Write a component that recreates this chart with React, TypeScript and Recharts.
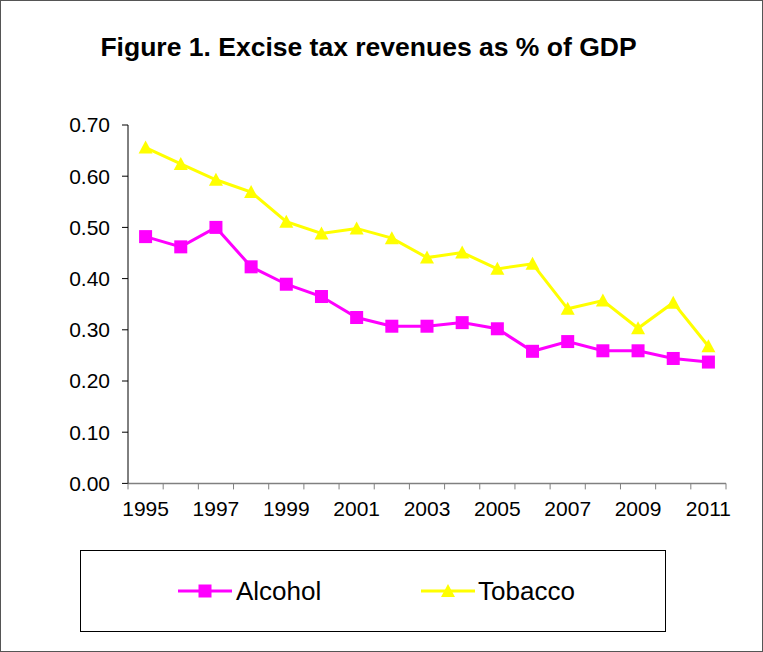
import React from "react";
import { LineChart, Line, XAxis, YAxis } from "recharts";

// values (% of GDP)
const years = [
  "1995", "1996", "1997", "1998", "1999", "2000", "2001", "2002", "2003",
  "2004", "2005", "2006", "2007", "2008", "2009", "2010", "2011",
];
const alcohol = [
  0.482, 0.462, 0.5, 0.423, 0.389, 0.365, 0.324, 0.307, 0.307, 0.314, 0.302,
  0.258, 0.277, 0.259, 0.259, 0.244, 0.237,
];
const tobacco = [
  0.656, 0.624, 0.593, 0.569, 0.511, 0.488, 0.498, 0.479, 0.441, 0.451, 0.419,
  0.429, 0.341, 0.357, 0.303, 0.353, 0.268,
];
const yTicks = [0, 0.1, 0.2, 0.3, 0.4, 0.5, 0.6, 0.7];

const data = years.map((year, i) => ({
  year,
  alcohol: alcohol[i],
  tobacco: tobacco[i],
}));

const W = 763;
const H = 652;
const PLOT_LEFT = 128;
const PLOT_RIGHT = 726;
const BAND = (PLOT_RIGHT - PLOT_LEFT) / years.length;
const FONT = "'Liberation Sans', Arial, sans-serif";
const MAGENTA = "#FF00FF";
const YELLOW = "#FFFF00";

const Square = (props: any) => {
  const { cx, cy, index } = props;
  if (cx == null || cy == null) return <g key={index} />;
  return <rect key={index} x={cx - 6.5} y={cy - 6.5} width={13} height={13} fill={MAGENTA} />;
};

const Triangle = (props: any) => {
  const { cx, cy, index } = props;
  if (cx == null || cy == null) return <g key={index} />;
  return (
    <polygon
      key={index}
      points={`${cx},${cy - 7} ${cx + 7},${cy + 6} ${cx - 7},${cy + 6}`}
      fill={YELLOW}
    />
  );
};

// Excel-style category axis: ticks between categories, labels every other year
const XTick = (props: any) => {
  const { x, y, payload, index } = props;
  const half = BAND / 2;
  return (
    <g>
      <line x1={x - half} x2={x - half} y1={y} y2={y + 6} stroke="#808080" />
      {index === years.length - 1 && (
        <line x1={x + half} x2={x + half} y1={y} y2={y + 6} stroke="#808080" />
      )}
      {index % 2 === 0 && (
        <text x={x} y={y + 32.6} textAnchor="middle" fontSize={21} fontFamily={FONT} fill="#000">
          {payload.value}
        </text>
      )}
    </g>
  );
};

export default function App() {
  return (
    <div style={{ position: "absolute", left: 0, top: 0, width: W, height: H, background: "#fff" }}>
      <LineChart
        width={W}
        height={H}
        data={data}
        margin={{ top: 125, right: W - PLOT_RIGHT, bottom: 128.6, left: 0 }}
      >
        <XAxis
          dataKey="year"
          interval={0}
          height={40}
          padding={{ left: BAND / 2, right: BAND / 2 }}
          tickLine={false}
          tickSize={0}
          tickMargin={0}
          axisLine={{ stroke: "#808080", strokeWidth: 1.5 }}
          tick={<XTick />}
        />
        <YAxis
          width={PLOT_LEFT}
          domain={[0, 0.7]}
          ticks={yTicks}
          tickFormatter={(v: number) => v.toFixed(2)}
          tickSize={6}
          tickMargin={12}
          axisLine={{ stroke: "#000" }}
          tickLine={{ stroke: "#000" }}
          tick={{ fontSize: 21, fontFamily: FONT, fill: "#000" }}
        />
        <Line
          type="linear"
          dataKey="tobacco"
          stroke={YELLOW}
          strokeWidth={3}
          dot={Triangle}
          activeDot={false}
          isAnimationActive={false}
        />
        <Line
          type="linear"
          dataKey="alcohol"
          stroke={MAGENTA}
          strokeWidth={3}
          dot={Square}
          activeDot={false}
          isAnimationActive={false}
        />
      </LineChart>

      <svg width={W} height={H} style={{ position: "absolute", left: 0, top: 0, pointerEvents: "none" }}>
        <rect x={0.5} y={0.5} width={W - 1} height={H - 1} fill="none" stroke="#555" />
        <text x={368.5} y={56} textAnchor="middle" fontSize={26.5} fontWeight="bold" fontFamily={FONT} fill="#000">
          Figure 1. Excise tax revenues as % of GDP
        </text>
        <rect x={80.5} y={550.5} width={585} height={81} fill="none" stroke="#000" />
        <line x1={178} x2={232} y1={591} y2={591} stroke={MAGENTA} strokeWidth={3} />
        <rect x={198.5} y={584.5} width={13} height={13} fill={MAGENTA} />
        <text x={236} y={600} fontSize={26} fontFamily={FONT} fill="#000">Alcohol</text>
        <line x1={421} x2={475} y1={591} y2={591} stroke={YELLOW} strokeWidth={3} />
        <polygon points="448,584 455,597 441,597" fill={YELLOW} />
        <text x={478} y={600} fontSize={26} fontFamily={FONT} fill="#000">Tobacco</text>
      </svg>
    </div>
  );
}
